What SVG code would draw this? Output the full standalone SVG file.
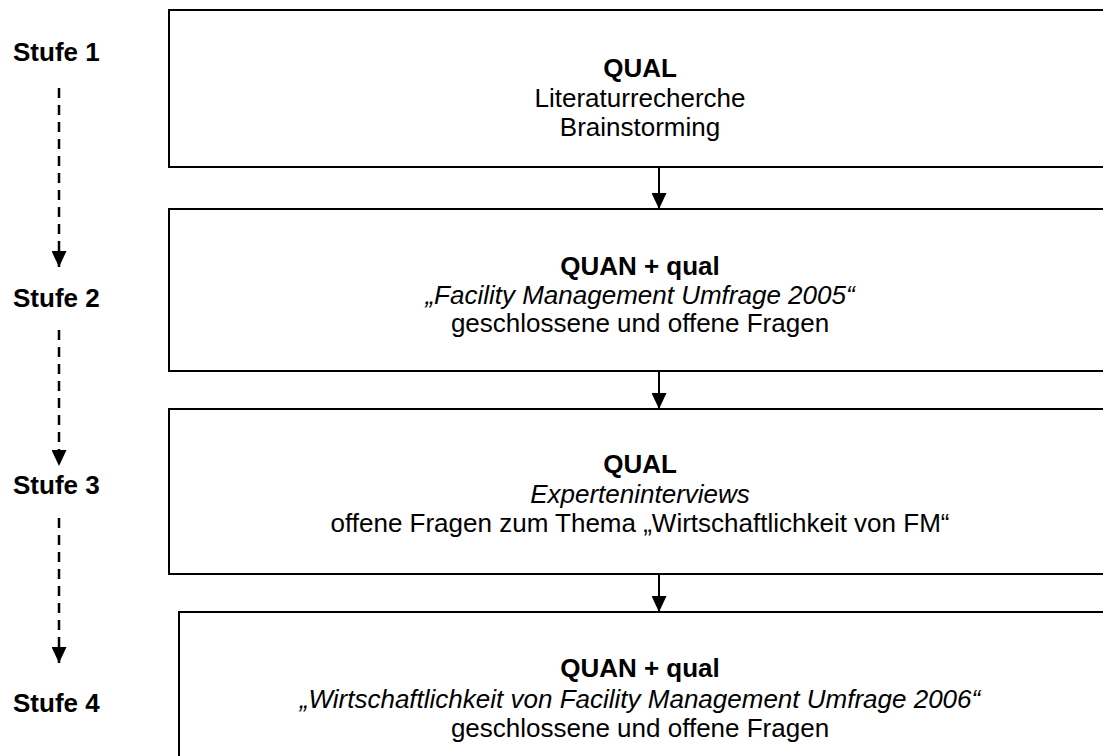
<svg xmlns="http://www.w3.org/2000/svg" width="1103" height="756" viewBox="0 0 1103 756">
<defs>
<style>
.box{fill:#fff;stroke:#000;stroke-width:2}
.t{font-family:"Liberation Sans",Arial,sans-serif;font-size:26px;fill:#000;text-anchor:middle}
.b{font-weight:bold}
.i{font-style:italic}
.s{font-family:"Liberation Sans",Arial,sans-serif;font-size:26px;font-weight:bold;fill:#000}
.c{stroke:#000;stroke-width:2;fill:none}
.d{stroke:#000;stroke-width:2.5;fill:none;stroke-dasharray:10 7}
</style>
<marker id="ah" viewBox="0 0 16 15" refX="16" refY="7.5" markerWidth="16" markerHeight="15" orient="auto" markerUnits="userSpaceOnUse">
<path d="M0,0 L16,7.5 L0,15 z" fill="#000"/>
</marker>
</defs>
<rect width="1103" height="756" fill="#fff"/>
<g id="labels">
<text class="s" x="13" y="61">Stufe 1</text>
<text class="s" x="13" y="307">Stufe 2</text>
<text class="s" x="13" y="494">Stufe 3</text>
<text class="s" x="13" y="712">Stufe 4</text>
</g>
<g id="node1">
<rect class="box" x="169" y="10" width="950" height="157"/>
<text class="t b" x="640" y="77">QUAL</text>
<text class="t" x="640" y="107">Literaturrecherche</text>
<text class="t" x="640" y="136">Brainstorming</text>
</g>
<g id="node2">
<rect class="box" x="169" y="209" width="950" height="162"/>
<text class="t b" x="640" y="275">QUAN + qual</text>
<text class="t i" x="640" y="304">„Facility Management Umfrage 2005“</text>
<text class="t" x="640" y="332">geschlossene und offene Fragen</text>
</g>
<g id="node3">
<rect class="box" x="169" y="409" width="950" height="165"/>
<text class="t b" x="640" y="473">QUAL</text>
<text class="t i" x="640" y="503">Experteninterviews</text>
<text class="t" x="640" y="532">offene Fragen zum Thema „Wirtschaftlichkeit von FM“</text>
</g>
<g id="node4">
<rect class="box" x="179" y="612" width="950" height="160"/>
<text class="t b" x="640" y="677">QUAN + qual</text>
<text class="t i" x="640" y="708">„Wirtschaftlichkeit von Facility Management Umfrage 2006“</text>
<text class="t" x="640" y="737">geschlossene und offene Fragen</text>
</g>
<g id="connectors">
<line class="c" x1="659" y1="167" x2="659" y2="209" marker-end="url(#ah)"/>
<line class="c" x1="659" y1="371" x2="659" y2="409" marker-end="url(#ah)"/>
<line class="c" x1="659" y1="574" x2="659" y2="612" marker-end="url(#ah)"/>
<line class="d" x1="59" y1="88" x2="59" y2="267" marker-end="url(#ah)"/>
<line class="d" x1="59" y1="330" x2="59" y2="466" marker-end="url(#ah)"/>
<line class="d" x1="59" y1="518" x2="59" y2="663" marker-end="url(#ah)"/>
</g>
</svg>
